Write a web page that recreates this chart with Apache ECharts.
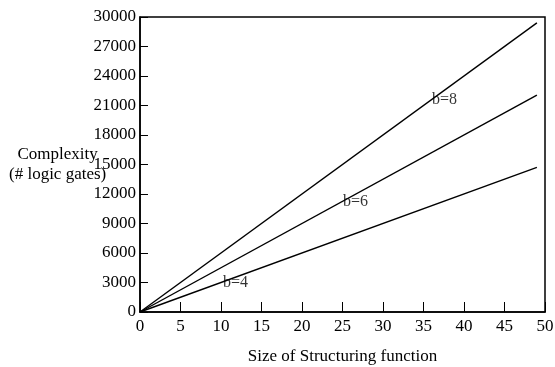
<!DOCTYPE html>
<html>
<head>
<meta charset="utf-8">
<script src="https://cdn.jsdelivr.net/npm/echarts@6/dist/echarts.min.js"></script>
<style>
  html, body { margin: 0; padding: 0; background: #fff; }
  #chart { width: 555px; height: 367px; }
</style>
</head>
<body>
<div id="chart"></div>
<script>
var sizes = [0, 49];
var b4 = [0, 14700];
var b6 = [0, 22050];
var b8 = [0, 29400];
var labelNames = ['b=4', 'b=6', 'b=8'];
var labelX = [11.8, 26.6, 37.6];
var labelY = [2950, 11200, 21560];

var font = '"Liberation Serif", "DejaVu Serif", serif';

function pairs(ys) {
  return sizes.map(function (x, i) { return [x, ys[i]]; });
}

var myChart = echarts.init(document.getElementById('chart'));

var option = {
  backgroundColor: '#fff',
  animation: false,
  grid: {
    left: 140, right: 10, top: 17, bottom: 55,
    outerBoundsMode: 'none',
    show: true, borderColor: '#000', borderWidth: 1.5
  },
  xAxis: {
    type: 'value',
    min: 0, max: 50, interval: 5,
    name: 'Size of Structuring function',
    nameLocation: 'middle',
    nameGap: 36,
    nameTextStyle: { fontFamily: font, fontSize: 17, color: '#000' },
    axisLine: { lineStyle: { color: '#000', width: 1.5 } },
    axisTick: { inside: true, length: 10, lineStyle: { color: '#000' } },
    axisLabel: { fontFamily: font, fontSize: 17, color: '#000', margin: 6 },
    splitLine: { show: false }
  },
  yAxis: {
    type: 'value',
    min: 0, max: 30000, interval: 3000,
    axisLine: { show: true, lineStyle: { color: '#000', width: 1.5 } },
    axisTick: { show: true, inside: true, length: 8, lineStyle: { color: '#000' } },
    axisLabel: {
      fontFamily: font, fontSize: 17, color: '#000', margin: 4,
      formatter: function (v) { return String(v); }
    },
    splitLine: { show: false }
  },
  graphic: [{
    type: 'text',
    left: 9, top: 145,
    style: {
      text: '  Complexity\n(# logic gates)',
      fontFamily: font, fontSize: 17, fill: '#000', lineHeight: 20
    }
  }],
  series: [
    { type: 'line', data: pairs(b4), symbol: 'none', lineStyle: { color: '#000', width: 1.4 } },
    { type: 'line', data: pairs(b6), symbol: 'none', lineStyle: { color: '#000', width: 1.4 } },
    { type: 'line', data: pairs(b8), symbol: 'none', lineStyle: { color: '#000', width: 1.4 } },
    {
      type: 'scatter',
      symbolSize: 0,
      data: labelNames.map(function (n, i) { return { name: n, value: [labelX[i], labelY[i]] }; }),
      label: {
        show: true, position: 'inside',
        formatter: '{b}',
        fontFamily: font, fontSize: 16, color: '#000'
      }
    }
  ]
};
myChart.setOption(option);
</script>
</body>
</html>
